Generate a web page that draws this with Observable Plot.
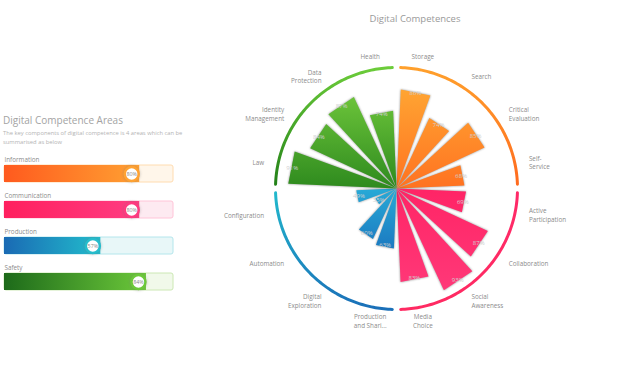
<!DOCTYPE html>
<html><head><meta charset="utf-8">
<script src="https://cdn.jsdelivr.net/npm/d3@7"></script>
<script src="https://cdn.jsdelivr.net/npm/@observablehq/plot@0.6"></script>
<style>
body{margin:0;background:#fff;font-family:"Open Sans",sans-serif;}
#page{position:relative;width:643px;height:374px;overflow:hidden;background:#fff;}
#ltitle{position:absolute;left:3px;top:114px;font-size:10px;line-height:13px;color:#a3a3a3;white-space:nowrap;}
#lsub{position:absolute;left:3px;top:129px;font-size:5.8px;line-height:9px;color:#b3b3b3;white-space:nowrap;}
#rtitle{position:absolute;left:315px;width:200px;top:12px;text-align:center;font-size:9.5px;line-height:13px;color:#9a9a9a;}
#left{position:absolute;left:0;top:150px;}
#radial{position:absolute;left:200px;top:0;}
g[aria-description=wedge]{filter:drop-shadow(0.6px 0.8px 0.8px rgba(0,0,0,0.45));}
g[aria-description=knob] circle{filter:drop-shadow(0 0 1.5px rgba(120,120,120,0.45));}
</style></head><body>
<div id="page">
<svg width="0" height="0" style="position:absolute">
<defs>
<linearGradient id="gO" gradientUnits="userSpaceOnUse" x1="0" y1="90" x2="0" y2="188"><stop offset="0" stop-color="#ffa432"/><stop offset="1" stop-color="#ff7221"/></linearGradient>
<linearGradient id="gP" gradientUnits="userSpaceOnUse" x1="0" y1="190" x2="0" y2="300"><stop offset="0" stop-color="#ff2566"/><stop offset="1" stop-color="#ff3a7a"/></linearGradient>
<linearGradient id="gB" gradientUnits="userSpaceOnUse" x1="0" y1="190" x2="0" y2="250"><stop offset="0" stop-color="#27a8d6"/><stop offset="1" stop-color="#1b78c0"/></linearGradient>
<linearGradient id="gG" gradientUnits="userSpaceOnUse" x1="0" y1="95" x2="0" y2="188"><stop offset="0" stop-color="#6cc43a"/><stop offset="1" stop-color="#2e8a1e"/></linearGradient>
<linearGradient id="rO" gradientUnits="userSpaceOnUse" x1="0" y1="67" x2="0" y2="185"><stop offset="0" stop-color="#ffa02c"/><stop offset="1" stop-color="#ff6a1e"/></linearGradient>
<linearGradient id="rP" gradientUnits="userSpaceOnUse" x1="0" y1="190" x2="0" y2="310"><stop offset="0" stop-color="#ff2a68"/><stop offset="1" stop-color="#ff2a62"/></linearGradient>
<linearGradient id="rB" gradientUnits="userSpaceOnUse" x1="0" y1="193" x2="0" y2="309"><stop offset="0" stop-color="#22b8cc"/><stop offset="1" stop-color="#1a6fb8"/></linearGradient>
<linearGradient id="rG" gradientUnits="userSpaceOnUse" x1="0" y1="67" x2="0" y2="185"><stop offset="0" stop-color="#6ccc3a"/><stop offset="1" stop-color="#228018"/></linearGradient>
<linearGradient id="lg0" x1="0" y1="0" x2="1" y2="0"><stop offset="0" stop-color="#ff5a1e"/><stop offset="1" stop-color="#ffa032"/></linearGradient>
<linearGradient id="lg1" x1="0" y1="0" x2="1" y2="0"><stop offset="0" stop-color="#ff1f5e"/><stop offset="1" stop-color="#ff3d82"/></linearGradient>
<linearGradient id="lg2" x1="0" y1="0" x2="1" y2="0"><stop offset="0" stop-color="#1a6ab4"/><stop offset="1" stop-color="#22bccc"/></linearGradient>
<linearGradient id="lg3" x1="0" y1="0" x2="1" y2="0"><stop offset="0" stop-color="#1d6a1a"/><stop offset="1" stop-color="#6cc83a"/></linearGradient>
</defs>
</svg>
<div id="ltitle">Digital Competence Areas</div>
<div id="lsub">The key components of digital competence is 4 areas which can be<br>summarised as below</div>
<div id="rtitle">Digital Competences</div>
<div id="left"></div>
<div id="radial"></div>
</div>
<script>
// ---- data ----
const areas = ["Information", "Communication", "Production", "Safety"];
const areaValues = [80, 80, 57, 84];
const competences = ["Storage", "Search", "Critical\nEvaluation", "Self-\nService",
  "Active\nParticipation", "Collaboration", "Social\nAwareness", "Media\nChoice",
  "Production\nand Shari...", "Digital\nExploration", "Automation", "Configuration",
  "Law", "Identity\nManagement", "Data\nProtection", "Health"];
const competenceAreas = ["Information", "Information", "Information", "Information",
  "Communication", "Communication", "Communication", "Communication",
  "Production", "Production", "Production", "Production",
  "Safety", "Safety", "Safety", "Safety"];
const competenceValues = [86, 74, 85, 68, 69, 87, 93, 83, 63, 60, 35, 49, 91, 84, 87, 74];

// ---- styles ----
const wedgeFill = {Information: "url(#gO)", Communication: "url(#gP)", Production: "url(#gB)", Safety: "url(#gG)"};
const ringStroke = {Information: "url(#rO)", Communication: "url(#rP)", Production: "url(#rB)", Safety: "url(#rG)"};
const trackFill = ["#fff6ea", "#fdeaf1", "#e8f7f8", "#f1f9ea"];
const trackStroke = ["#ffdcb0", "#ffc4d8", "#b4e6ec", "#cce8b4"];
const knobStroke = ["#ffa232", "#ff3a80", "#26bccc", "#6cc83a"];

// ---- left panel ----
const rows = areas.map((a, i) => ({area: a, value: areaValues[i], i}));
const left = Plot.plot({
  width: 190, height: 144, margin: 0, marginLeft: 4, marginRight: 17,
  style: {background: "transparent", fontFamily: "Open Sans"},
  x: {domain: [0, 100], axis: null},
  y: {type: "band", domain: areas, padding: 0, axis: null},
  marks: [
    ...rows.map(r => Plot.barX([r], {x1: 0, x2: 100, y: "area", insetTop: 15, insetBottom: 4, fill: trackFill[r.i], stroke: trackStroke[r.i], strokeWidth: 1, rx: 2})),
    ...rows.map(r => Plot.barX([r], {x1: 0, x2: "value", y: "area", insetTop: 15, insetBottom: 4, fill: `url(#lg${r.i})`})),
    Plot.text(rows, {x: 0, y: "area", text: "area", textAnchor: "start", dy: -9, fontSize: 6.3, fill: "#8c8c8c"}),
    ...rows.map(r => Plot.dot([r], {x: "value", y: "area", dx: -8, dy: 5.5, r: 7, fill: "white", stroke: knobStroke[r.i], strokeWidth: 2.5, ariaDescription: "knob"})),
    Plot.text(rows, {x: "value", y: "area", dx: -8, dy: 5.5, text: d => `${d.value}%`, fontSize: 5.3, fill: "#8a8a8a"})
  ]
});
document.getElementById("left").appendChild(left);

// ---- radial chart ----
const n = competences.length;
const step = 360 / n;
const pad = 2.5;
const R = d3.scalePow().exponent(1.6).domain([0, 100]).range([0, 126]);
const ringR = 121, labelR = 135;
const rad = a => a * Math.PI / 180;
const px = (a, r) => r * Math.sin(rad(a));
const py = (a, r) => -r * Math.cos(rad(a));
const mid = i => i * step + step / 2;

const wedgePts = competences.flatMap((c, i) => {
  const a0 = i * step + pad, a1 = (i + 1) * step - pad, r = R(competenceValues[i]);
  return [
    {i, area: competenceAreas[i], x: 0, y: 0},
    {i, area: competenceAreas[i], x: px(a0, r), y: py(a0, r)},
    {i, area: competenceAreas[i], x: px(a1, r), y: py(a1, r)}
  ];
});
const ringPts = areas.flatMap((a, q) =>
  d3.range(q * 90 + 2, q * 90 + 88.01, 1).map(t => ({area: a, x: px(t, ringR), y: py(t, ringR)})));

const labels = competences.map((c, i) => {
  const s = Math.sin(rad(mid(i)));
  return {text: c, x: px(mid(i), labelR), y: py(mid(i), labelR), anchor: Math.abs(s) < 0.3 ? "middle" : s > 0 ? "start" : "end"};
});
const pct = competences.map((c, i) => ({
  text: `${competenceValues[i]}%`,
  x: px(mid(i), R(competenceValues[i]) - 2),
  y: py(mid(i), R(competenceValues[i]) - 2)
}));

const radial = Plot.plot({
  width: 443, height: 374, margin: 0,
  style: {background: "transparent", fontFamily: "Open Sans"},
  x: {type: "linear", domain: [-196, 247], range: [0, 443], axis: null},
  y: {type: "linear", domain: [-188, 186], range: [0, 374], axis: null},
  marks: [
    ...areas.map(a => Plot.line(ringPts.filter(d => d.area === a), {x: "x", y: "y", stroke: ringStroke[a], strokeWidth: 3, curve: "linear"})),
    ...areas.map(a => Plot.line(wedgePts.filter(d => d.area === a), {x: "x", y: "y", z: "i", fill: wedgeFill[a], stroke: "none", curve: "linear-closed", ariaDescription: "wedge"})),
    ...["start", "middle", "end"].map(an => Plot.text(labels.filter(d => d.anchor === an), {x: "x", y: "y", text: "text", textAnchor: an, fontSize: 6.3, lineHeight: 1.4, fill: "#8c8c8c"})),
    Plot.text(pct, {x: "x", y: "y", text: "text", fontSize: 6, fill: "#cfcfcf"})
  ]
});
document.getElementById("radial").appendChild(radial);
</script>
</body></html>
